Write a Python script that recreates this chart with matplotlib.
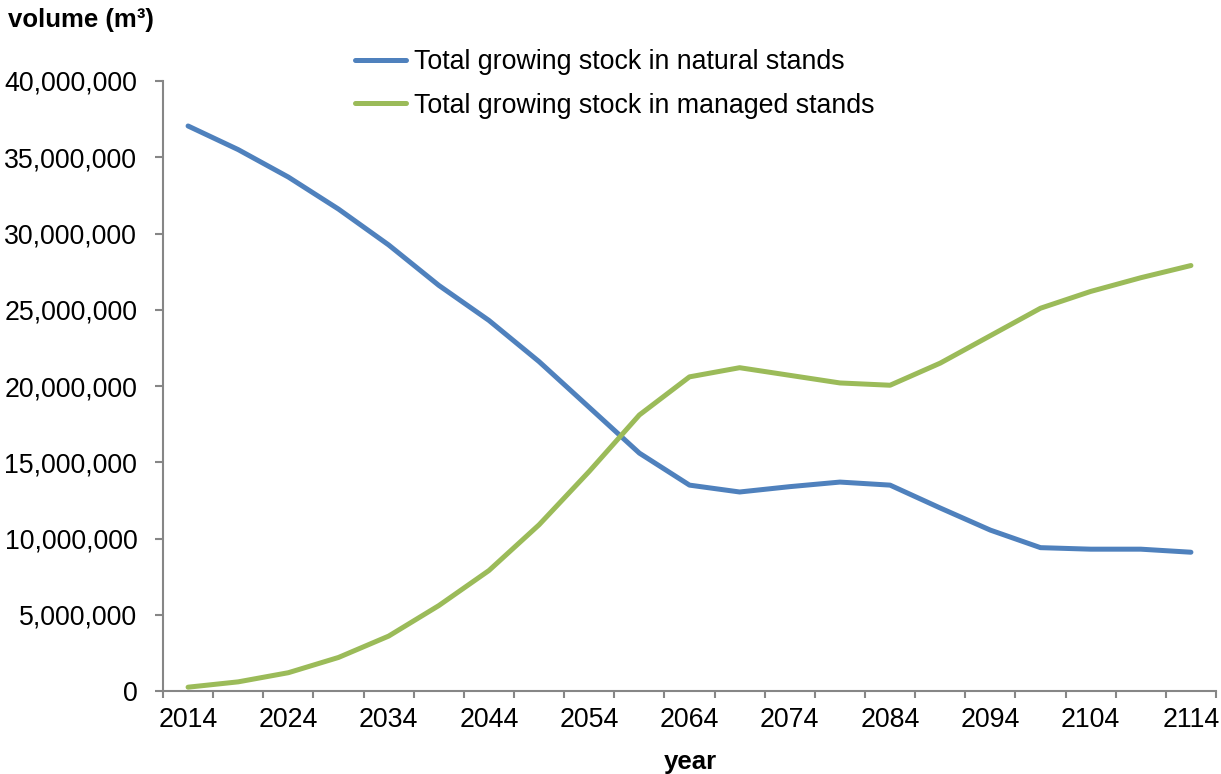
import numpy as np
import matplotlib.pyplot as plt
from matplotlib.ticker import FuncFormatter, FixedLocator

years = list(range(2014, 2115, 5))
natural = [37.05, 35.5, 33.7, 31.6, 29.25, 26.6, 24.3, 21.6, 18.6, 15.6, 13.5,
           13.05, 13.4, 13.7, 13.5, 12.0, 10.55, 9.4, 9.3, 9.3, 9.1]
managed = [0.25, 0.6, 1.2, 2.2, 3.6, 5.6, 7.9, 10.9, 14.4, 18.1, 20.6,
           21.2, 20.7, 20.2, 20.05, 21.5, 23.3, 25.1, 26.2, 27.1, 27.9]
natural = np.array(natural) * 1e6
managed = np.array(managed) * 1e6

plt.rcParams['font.family'] = ['Liberation Sans', 'DejaVu Sans']

fig = plt.figure(figsize=(12.21, 7.74), dpi=100)
ax = fig.add_axes([163 / 1221, 1 - 691 / 774, (1216 - 163) / 1221, (691 - 81) / 774])

x = np.arange(len(years))
ax.plot(x, natural, color='#4F81BD', lw=3.6, solid_capstyle='round',
        label='Total growing stock in natural stands')
ax.plot(x, managed, color='#9BBB59', lw=3.6, solid_capstyle='round',
        label='Total growing stock in managed stands')

ax.set_xlim(-0.5, len(years) - 0.5)
ax.set_ylim(0, 40e6)
ax.set_yticks(np.arange(0, 40e6 + 1, 5e6))
ax.yaxis.set_major_formatter(FuncFormatter(lambda v, p: f'{int(v):,}'))

ax.set_xticks(x[::2])
ax.set_xticklabels([str(y) for y in years[::2]])
ax.xaxis.set_minor_locator(FixedLocator(np.arange(-0.5, len(years), 1)))
ax.tick_params(axis='x', which='major', length=0, pad=11.5, labelsize=19.3)
ax.tick_params(axis='x', which='minor', length=5, color='#868686', width=1.5)
ax.tick_params(axis='y', length=6, color='#868686', width=1.5, labelsize=19.3, pad=12.5)

for s in ['top', 'right']:
    ax.spines[s].set_visible(False)
for s in ['left', 'bottom']:
    ax.spines[s].set_color('#868686')
    ax.spines[s].set_linewidth(1.5)

fig.text(8 / 1221, 1 - 20 / 774, 'volume (m³)', fontsize=18.5,
         fontweight='bold', va='center', ha='left')
fig.text(690 / 1221, 1 - 762 / 774, 'year', fontsize=18.5, fontweight='bold',
         va='center', ha='center')

fig.legend(loc='upper left', bbox_to_anchor=(355 / 1221, 1 - 49 / 774), frameon=False,
           fontsize=19.3, handlelength=1.9, handletextpad=0.3, labelspacing=0.66,
           borderaxespad=0, borderpad=0)

fig.savefig('out.png', dpi=100)
